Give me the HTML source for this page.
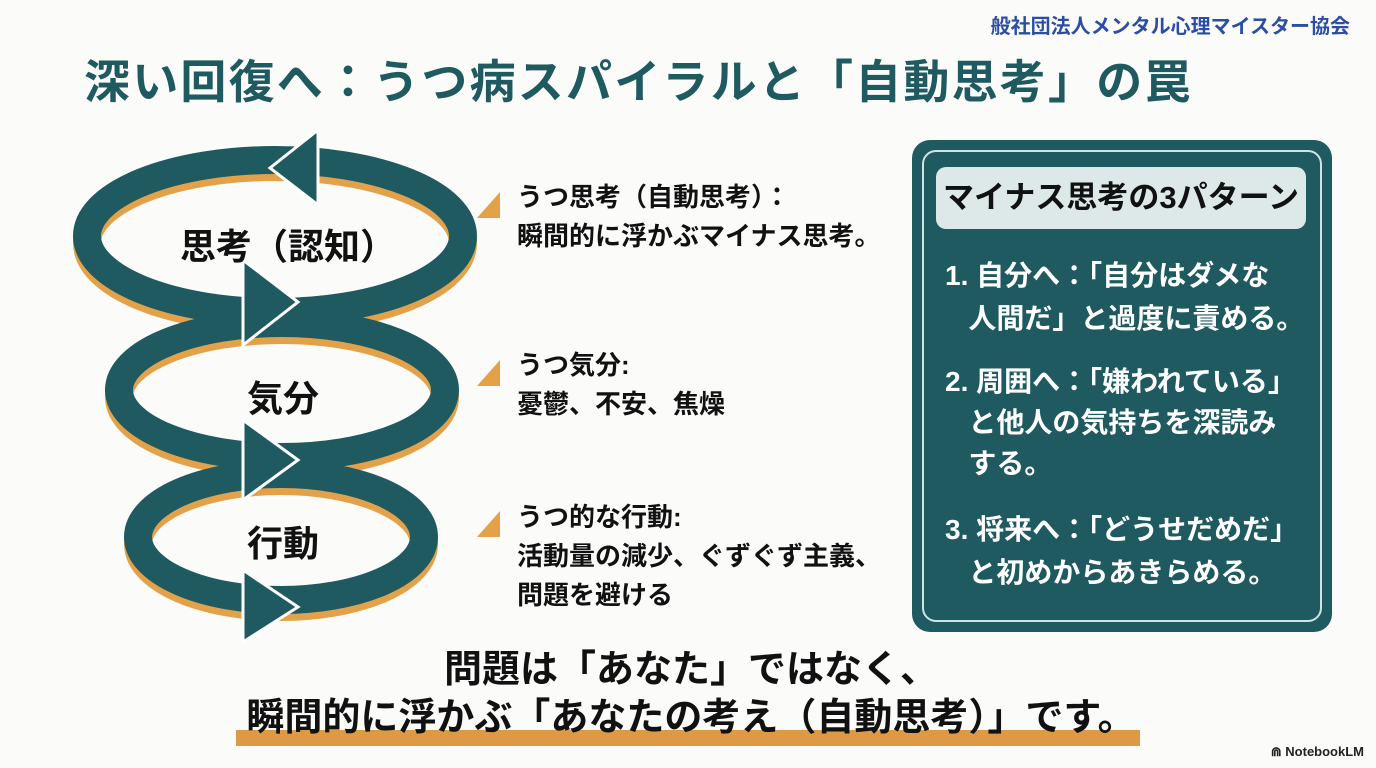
<!DOCTYPE html>
<html><head><meta charset="utf-8"><style>
body{margin:0;width:1376px;height:768px;background:#fbfbfa;overflow:hidden;position:relative;font-family:"Liberation Sans","Noto Sans CJK JP",sans-serif;font-weight:bold}
.a{position:absolute;white-space:nowrap}
</style></head><body>
<div class="a" style="right:26px;top:10px;font-size:20px;color:#2b4ea3">般社団法人メンタル心理マイスター協会</div>
<div class="a" style="left:84px;top:46px;font-size:46px;color:#1f5a60;letter-spacing:2.2px">深い回復へ：うつ病スパイラルと「自動思考」の罠</div>
<svg class="a" style="left:0;top:0" width="900" height="768">
<g fill="none" stroke-width="28">
<ellipse cx="275" cy="243" rx="188" ry="76" stroke="#e3a24a"/>
<ellipse cx="275" cy="236" rx="188" ry="76" stroke="#1f5a60"/>
<ellipse cx="282" cy="397" rx="163" ry="67" stroke="#e3a24a"/>
<ellipse cx="282" cy="390" rx="163" ry="67" stroke="#1f5a60"/>
<ellipse cx="281" cy="544" rx="143" ry="63" stroke="#e3a24a"/>
<ellipse cx="281" cy="537" rx="143" ry="63" stroke="#1f5a60"/>
</g>
<g fill="#1f5a60" stroke="#fff" stroke-width="3">
<polygon points="318,130 318,205 270,168"/>
<polygon points="243,260 243,345 298,302"/>
<polygon points="243,420 243,500 298,460"/>
<polygon points="243,570 243,642 298,607"/>
</g>
<g fill="#e3a24a">
<polygon points="477,218 500,192 500,218"/>
<polygon points="477,386 500,360 500,386"/>
<polygon points="477,537 500,511 500,537"/>
</g>
</svg>
<div class="a" style="left:180px;top:218px;font-size:36px;color:#111">思考（認知）</div>
<div class="a" style="left:247px;top:370px;font-size:36px;color:#111">気分</div>
<div class="a" style="left:247px;top:515px;font-size:36px;color:#111">行動</div>
<div class="a" style="left:517px;top:178px;font-size:26px;line-height:39px;color:#111">うつ思考（自動思考）：<br>瞬間的に浮かぶマイナス思考。</div>
<div class="a" style="left:517px;top:346px;font-size:26px;line-height:39px;color:#111">うつ気分:<br>憂鬱、不安、焦燥</div>
<div class="a" style="left:517px;top:498px;font-size:26px;line-height:39px;color:#111">うつ的な行動:<br>活動量の減少、ぐずぐず主義、<br>問題を避ける</div>
<div class="a" style="left:912px;top:140px;width:420px;height:492px;background:#1e5a60;border-radius:18px"></div>
<div class="a" style="left:922px;top:150px;width:396px;height:468px;border:2px solid #cfe4e4;border-radius:14px"></div>
<div class="a" style="left:936px;top:167px;width:370px;height:62px;background:#dde9e9;border-radius:10px;font-size:31px;line-height:62px;text-align:center;color:#111">マイナス思考の3パターン</div>
<div class="a" style="left:945px;top:254px;font-size:28px;line-height:43px;color:#fff">1. 自分へ：「自分はダメな<br>&nbsp;&nbsp;&nbsp;人間だ」と過度に責める。</div>
<div class="a" style="left:945px;top:361px;font-size:28px;line-height:41px;color:#fff">2. 周囲へ：「嫌われている」<br>&nbsp;&nbsp;&nbsp;と他人の気持ちを深読み<br>&nbsp;&nbsp;&nbsp;する。</div>
<div class="a" style="left:945px;top:508px;font-size:28px;line-height:43px;color:#fff">3. 将来へ：「どうせだめだ」<br>&nbsp;&nbsp;&nbsp;と初めからあきらめる。</div>
<div class="a" style="left:236px;top:730px;width:904px;height:16px;background:#dc9a45"></div>
<div class="a" style="left:0;width:1382px;top:646px;text-align:center;font-size:38px;line-height:48px;color:#111">問題は「あなた」ではなく、<br>瞬間的に浮かぶ「あなたの考え（自動思考）」です。</div>
<div class="a" style="right:12px;top:744px;font-size:13px;color:#222">⋒ NotebookLM</div>
</body></html>
